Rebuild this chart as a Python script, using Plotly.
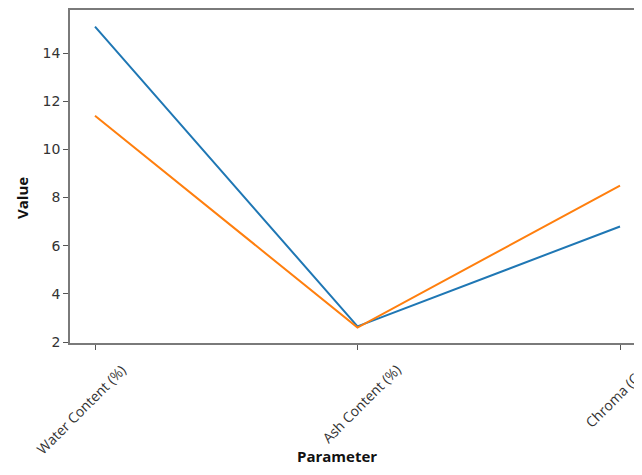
import plotly.graph_objects as go

categories = ["Water Content (%)", "Ash Content (%)", "Chroma (C*)"]
series_a = [15.1, 2.65, 6.8]
series_b = [11.4, 2.6, 8.5]
y_ticks = [2, 4, 6, 8, 10, 12, 14]

# page body has an 8px margin; size the figure to fit the 642x475 window
OFF = 8
W, H = 642 - 2 * OFF, 475 - 2 * OFF
L, R, T, B = 70 - OFF, 0, 10 - OFF, H - (343 - OFF)
PW, PH = W - L - R, H - T - B

def px_x(x):
    return (x - OFF - L) / PW

def px_y(y):
    return (H - B - (y - OFF)) / PH

fig = go.Figure()
fig.add_trace(go.Scatter(x=[0, 1, 2], y=series_a, mode="lines",
                         line=dict(color="#1f77b4", width=2), showlegend=False))
fig.add_trace(go.Scatter(x=[0, 1, 2], y=series_b, mode="lines",
                         line=dict(color="#ff7f0e", width=2), showlegend=False))

axis_line = "#7a7a7a"
annotations = [
    dict(text="<b>Parameter</b>", xref="paper", yref="paper",
         x=px_x(337), y=px_y(456),
         xanchor="center", yanchor="middle", showarrow=False,
         font=dict(family="Open Sans", size=15, color="#111")),
    dict(text="<b>Value</b>", xref="paper", yref="paper",
         x=px_x(22), y=px_y(198),
         xanchor="center", yanchor="middle", showarrow=False, textangle=-90,
         font=dict(family="Open Sans", size=15, color="#111")),
]
label_shift = [-14, 4, -4]
for i, c in enumerate(categories):
    annotations.append(dict(
        text=c, xref="x", yref="paper", x=i, y=px_y(358), xshift=label_shift[i],
        xanchor="center", yanchor="top", showarrow=False, textangle=-45,
        font=dict(family="Open Sans", size=14, color="#333")))

fig.update_layout(
    width=W, height=H,
    margin=dict(l=L, r=R, t=T, b=B),
    plot_bgcolor="white", paper_bgcolor="white",
    xaxis=dict(
        range=[-25 / 262.5, 2 + 14 / 262.5], automargin=False,
        tickmode="array", tickvals=[0, 1, 2], ticktext=categories,
        showticklabels=False,
        ticks="outside", ticklen=5, tickcolor="#555",
        showline=True, linecolor=axis_line, linewidth=1.5, mirror=True,
        showgrid=False, zeroline=False,
    ),
    yaxis=dict(
        range=[1.96, 15.79], automargin=False,
        tickmode="array", tickvals=y_ticks,
        ticks="outside", ticklen=5, tickcolor="#555",
        showline=True, linecolor=axis_line, linewidth=1.5, mirror=True,
        showgrid=False, zeroline=False,
        tickfont=dict(family="DejaVu Sans", size=14, color="#333"),
    ),
    annotations=annotations,
)

fig.write_html("out.html")
